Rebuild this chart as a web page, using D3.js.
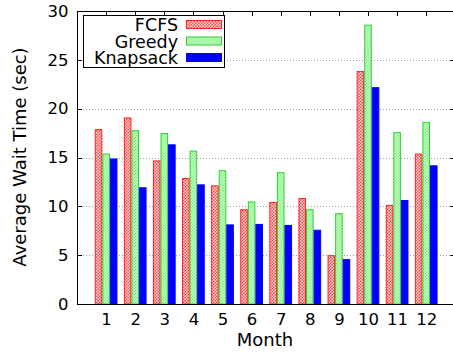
<!DOCTYPE html>
<html>
<head>
<meta charset="utf-8">
<script src="https://cdn.jsdelivr.net/npm/d3@7"></script>
<style>
  html, body { margin: 0; padding: 0; background: #fff; }
  svg { display: block; font-family: "DejaVu Sans", sans-serif; }
</style>
</head>
<body>
<script>
// Average wait time per month for three scheduling policies
const months = [1, 2, 3, 4, 5, 6, 7, 8, 9, 10, 11, 12];
const fcfs     = [17.9, 19.1, 14.7, 12.9, 12.15, 9.7, 10.45, 10.85, 5.0, 23.85, 10.15, 15.4];
const greedy   = [15.4, 17.8, 17.5, 15.7, 13.7, 10.5, 13.5, 9.7, 9.3, 28.6, 17.6, 18.65];
const knapsack = [14.9, 11.95, 16.35, 12.25, 8.15, 8.2, 8.1, 7.6, 4.6, 22.2, 10.65, 14.2];
const seriesNames = ["FCFS", "Greedy", "Knapsack"];
const yTicks = [0, 5, 10, 15, 20, 25, 30];

const W = 453, H = 352;
const svg = d3.select("body").append("svg").attr("width", W).attr("height", H);

const defs = svg.append("defs");
// checkered fills
function checker(id, base, dot, size) {
  const p = defs.append("pattern").attr("id", id)
    .attr("patternUnits", "userSpaceOnUse").attr("width", size).attr("height", size);
  p.append("rect").attr("width", size).attr("height", size).attr("fill", base);
  p.append("rect").attr("x", 0).attr("y", 0).attr("width", size / 2).attr("height", size / 2).attr("fill", dot);
  p.append("rect").attr("x", size / 2).attr("y", size / 2).attr("width", size / 2).attr("height", size / 2).attr("fill", dot);
}
checker("patRed", "#ff4848", "#ffe0e0", 3);
checker("patGreen", "#80ee80", "#d8ffd8", 3);

const fills = ["url(#patRed)", "url(#patGreen)", "#0000ff"];
const strokes = ["#ff2020", "#30d030", "#0000ff"];

const x = d3.scaleLinear().domain([0, 13]).range([77, 455.3]);
const y = d3.scaleLinear().domain([0, 30]).range([304, 11]);

const plot = svg.append("g");

// horizontal dotted grid
plot.selectAll("line.grid").data(yTicks.filter(v => v > 0 && v < 30)).join("line")
  .attr("x1", x(0)).attr("x2", x(13))
  .attr("y1", d => Math.round(y(d)) + 0.5).attr("y2", d => Math.round(y(d)) + 0.5)
  .attr("stroke", "#a0a0a0").attr("stroke-width", 1).attr("stroke-dasharray", "1,2");

// bars
const bw = 0.26;
const data = [fcfs, greedy, knapsack];
data.forEach((vals, si) => {
  plot.append("g").selectAll("rect").data(vals).join("rect")
    .attr("x", (d, i) => x(months[i] + (si - 1.5) * bw) + 0.5)
    .attr("width", x(bw) - x(0) - 1)
    .attr("y", d => y(d) + 0.5)
    .attr("height", d => y(0) - y(d) - 0.5)
    .attr("fill", fills[si])
    .attr("stroke", strokes[si])
    .attr("stroke-width", 1);
});

// frame
svg.append("rect").attr("x", x(0) + 0.5).attr("y", y(30) + 0.5)
  .attr("width", x(13) - x(0)).attr("height", y(0) - y(30))
  .attr("fill", "none").attr("stroke", "#000").attr("stroke-width", 1);

// axes
const yAxisL = d3.axisLeft(y).tickValues(yTicks).tickSize(0).tickPadding(9);
const gL = svg.append("g").attr("transform", `translate(${x(0) + 0.5},0)`).call(yAxisL);
gL.select(".domain").remove();
gL.selectAll("text").attr("font-size", 16.5).attr("font-family", "DejaVu Sans").attr("fill", "#000");

// inward ticks on all four sides
const tl = 5;
svg.append("g").selectAll("line").data(yTicks).join("line")
  .attr("x1", x(0)).attr("x2", x(0) + tl)
  .attr("y1", d => Math.round(y(d)) + 0.5).attr("y2", d => Math.round(y(d)) + 0.5)
  .attr("stroke", "#000");
svg.append("g").selectAll("line").data(yTicks).join("line")
  .attr("x1", x(13)).attr("x2", x(13) - tl)
  .attr("y1", d => Math.round(y(d)) + 0.5).attr("y2", d => Math.round(y(d)) + 0.5)
  .attr("stroke", "#000");
svg.append("g").selectAll("line").data(months).join("line")
  .attr("x1", d => Math.round(x(d)) + 0.5).attr("x2", d => Math.round(x(d)) + 0.5)
  .attr("y1", y(30)).attr("y2", y(30) + tl)
  .attr("stroke", "#000");

const xAxis = d3.axisBottom(x).tickValues(months).tickSize(0).tickPadding(9).tickFormat(d3.format("d"));
const gB = svg.append("g").attr("transform", `translate(0,${y(0) + 0.5})`).call(xAxis);
gB.select(".domain").remove();
gB.selectAll("text").attr("font-size", 16.5).attr("font-family", "DejaVu Sans").attr("fill", "#000");

// axis titles
svg.append("text").attr("x", 265).attr("y", 346).attr("text-anchor", "middle")
  .attr("font-size", 18).text("Month");
svg.append("text").attr("transform", "translate(26,157) rotate(-90)")
  .attr("text-anchor", "middle").attr("font-size", 18).text("Average Wait Time (sec)");

// legend
const lg = svg.append("g");
lg.append("rect").attr("x", 83.5).attr("y", 15.5).attr("width", 141).attr("height", 52)
  .attr("fill", "#fff").attr("stroke", "#000").attr("stroke-width", 1);
seriesNames.forEach((name, i) => {
  const cy = 25 + i * 16.5;
  lg.append("text").attr("x", 178).attr("y", cy + 6).attr("text-anchor", "end")
    .attr("font-size", 17.5).text(name);
  lg.append("rect").attr("x", 186.5).attr("y", cy - 4.5).attr("width", 35).attr("height", 8)
    .attr("fill", fills[i]).attr("stroke", strokes[i]);
});
</script>
</body>
</html>
